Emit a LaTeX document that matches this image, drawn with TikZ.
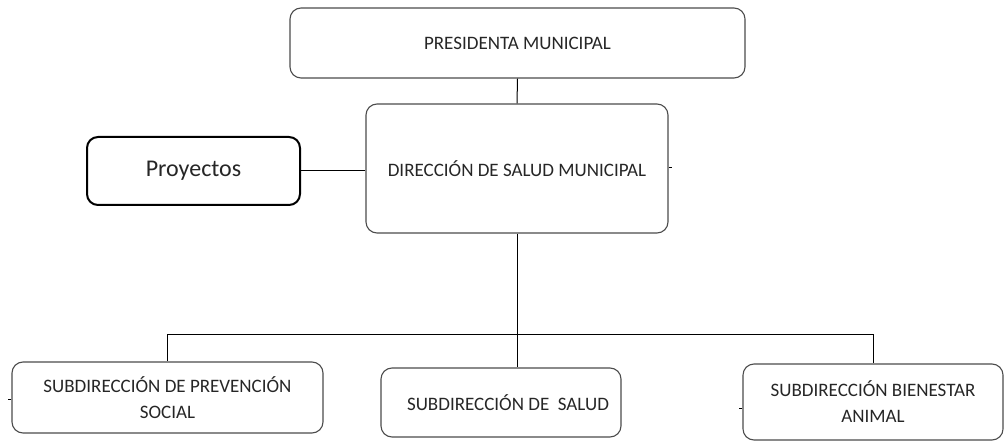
\documentclass[tikz,border=0pt]{standalone}
\usepackage{fontspec}
\setmainfont{Carlito}
\begin{document}
\begin{tikzpicture}[x=1pt,y=-1pt,
  orgbox/.style={draw=black!70, line width=1.1pt, rounded corners=11pt, inner sep=0pt,
    align=center, text=black!85, font=\fontsize{19}{26}\selectfont},
  projbox/.style={orgbox, draw=black, line width=2pt},
  link/.style={draw=black, line width=1pt}]
\useasboundingbox (0,0) rectangle (1008,443);
\node[orgbox, minimum width=455pt, minimum height=70pt] (pres) at (517.5,43) {PRESIDENTA MUNICIPAL};
\node[orgbox, minimum width=302pt, minimum height=129pt] (dir) at (517,168.5) {DIRECCIÓN DE SALUD MUNICIPAL};
\node[projbox, minimum width=213pt, minimum height=68pt, font=\fontsize{24}{28}\selectfont] (proy) at (193.5,171) {Proyectos};
\node[orgbox, minimum width=311pt, minimum height=71pt] (prev) at (167.5,397.5) {SUBDIRECCIÓN DE PREVENCIÓN\\SOCIAL};
\node[orgbox, minimum width=240pt, minimum height=69pt] (salud) at (501,402.5) {\hspace*{14pt}SUBDIRECCIÓN DE\ \ SALUD};
\node[orgbox, minimum width=260pt, minimum height=76pt] (bien) at (873,402) {SUBDIRECCIÓN BIENESTAR\\ANIMAL};
\coordinate (j) at (517,334);
\coordinate (dtick) at (672,168);
\coordinate (ptick) at (8,399);
\coordinate (btick) at (739,408);
\draw[link] (pres.south) -- (dir.north);
\draw[link] (proy.east) -- (proy.east -| dir.west);
\draw[link] (dir.south) -- (dir.south |- salud.north);
\draw[link] (j -| prev.north) -- (j -| bien.north);
\draw[link] (j -| prev.north) -- (prev.north);
\draw[link] (j -| bien.north) -- (bien.north);
\draw[link] (dir.east |- dtick) -- (dtick);
\draw[link] (prev.west |- ptick) -- (ptick);
\draw[link] (bien.west |- btick) -- (btick);
\end{tikzpicture}
\end{document}
